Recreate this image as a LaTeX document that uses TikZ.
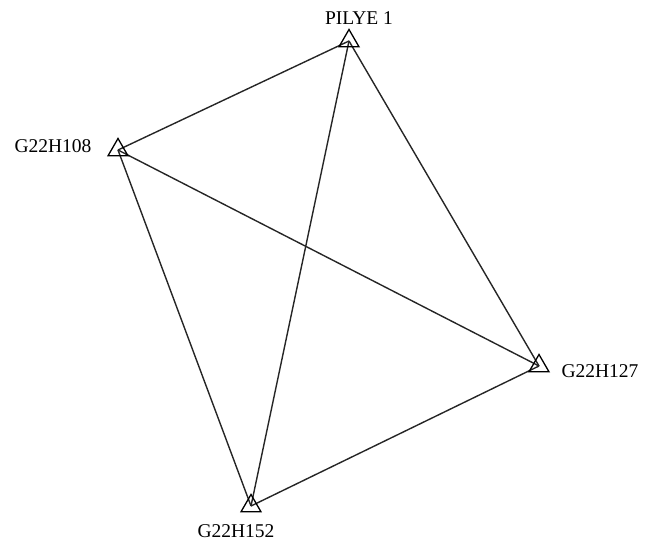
\documentclass[tikz,border=0pt]{standalone}
\usepackage{fontspec}
\setmainfont{Liberation Serif}
\usetikzlibrary{shapes.geometric}
\begin{document}
\begin{tikzpicture}[x=1pt,y=-1pt,
  station/.style={draw, regular polygon, regular polygon sides=3, minimum size=23pt, inner sep=0pt, line width=1.3pt, fill=none},
  lbl/.style={anchor=base, inner sep=0pt, font=\fontsize{19.5pt}{22pt}\selectfont},
  edge/.style={line width=1.4pt, draw=black!85}]
\useasboundingbox (0,0) rectangle (651,548);
\coordinate (p) at (349,41);
\coordinate (a) at (118,150);
\coordinate (b) at (539,366);
\coordinate (c) at (251,506);
\draw[edge] (a) -- (p);
\draw[edge] (a) -- (b);
\draw[edge] (a) -- (c);
\draw[edge] (p) -- (b);
\draw[edge] (p) -- (c);
\draw[edge] (b) -- (c);
\node[station] (np) at (p) {};
\node[station] (na) at (a) {};
\node[station] (nb) at (b) {};
\node[station] (nc) at (c) {};
\node[lbl] (lp) at (359,25) {PILYE 1};
\node[lbl] (la) at (53,153) {G22H108};
\node[lbl] (lb) at (600,377) {G22H127};
\node[lbl] (lc) at (236,537) {G22H152};
\end{tikzpicture}
\end{document}
